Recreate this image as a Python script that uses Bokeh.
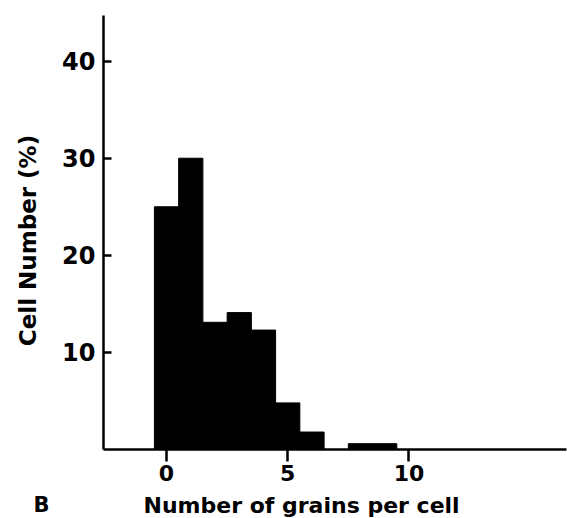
from bokeh.plotting import figure
from bokeh.layouts import column
from bokeh.models import FixedTicker, Range1d
from bokeh.core.properties import value
from bokeh.embed import file_html
from bokeh.resources import INLINE

grains = [0, 1, 2, 3, 4, 5, 6, 7, 8, 9]
cell_pct = [25.0, 30.0, 13.1, 14.1, 12.3, 4.8, 1.8, 0.0, 0.6, 0.6]
x_ticks = [0, 5, 10]
y_ticks = [10, 20, 30, 40]
x_title = "Number of  grains per cell"
y_title = "Cell  Number  (%)"
panel_tag = "B"

FONT = "DejaVu Sans"
W = 567
MAIN_H = 491
FOOT_H = 518 - MAIN_H

fig = figure(width=W, height=MAIN_H, output_backend="svg", toolbar_location=None,
             x_range=Range1d(-2.6, 16.5), y_range=Range1d(0, 44.7),
             min_border_left=103, min_border_right=1, min_border_top=15, min_border_bottom=42)
fig.outline_line_color = None
fig.grid.visible = False
fig.frame_align = False

fig.vbar(x=grains, top=cell_pct, width=1.0, bottom=0, fill_color="black", line_color="black")

for ax in (fig.xaxis[0], fig.yaxis[0]):
    ax.axis_line_width = 2.5
    ax.axis_line_color = "black"
    ax.major_tick_line_width = 2.5
    ax.minor_tick_line_color = None
    ax.major_label_text_font = FONT
    ax.major_label_text_font_style = "bold"
    ax.major_label_text_color = "black"
    ax.axis_label_text_font = FONT
    ax.axis_label_text_font_style = "bold"
    ax.axis_label_text_color = "black"

fig.xaxis.ticker = FixedTicker(ticks=x_ticks)
fig.xaxis.major_tick_in = 0
fig.xaxis.major_tick_out = 12
fig.xaxis.major_label_standoff = 3
fig.xaxis.major_label_text_font_size = "22px"

fig.yaxis.ticker = FixedTicker(ticks=y_ticks)
fig.yaxis.major_tick_in = 8
fig.yaxis.major_tick_out = 0
fig.yaxis.major_label_standoff = 8
fig.yaxis.major_label_text_font_size = "24px"
fig.yaxis.axis_label = y_title
fig.yaxis.axis_label_text_font_size = "23px"
fig.yaxis.axis_label_standoff = 18

# footer strip holding the x-axis title and the panel tag, in pixel-like units
foot = figure(width=W, height=FOOT_H, output_backend="svg", toolbar_location=None,
              x_range=Range1d(0, W), y_range=Range1d(0, FOOT_H),
              min_border_left=0, min_border_right=0, min_border_top=0, min_border_bottom=0,
              x_axis_type=None, y_axis_type=None)
foot.outline_line_color = None
foot.grid.visible = False
foot.frame_align = False
foot.text(x=[143], y=[FOOT_H / 2], text=[x_title], text_baseline="middle",
          text_font=value(FONT), text_font_style="bold", text_font_size="22px", text_color="black")
foot.text(x=[33], y=[FOOT_H / 2], text=[panel_tag], text_baseline="middle",
          text_font=value(FONT), text_font_style="bold", text_font_size="21px", text_color="black")

p = column(fig, foot, spacing=0)
open("out.html", "w").write(file_html(p, INLINE))
